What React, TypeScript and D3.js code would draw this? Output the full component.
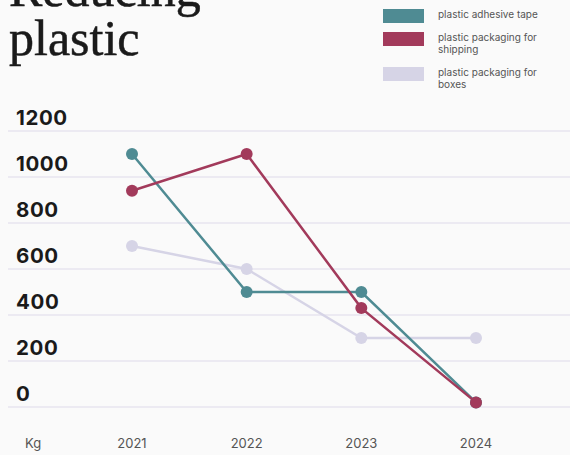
import React from "react";
import * as d3 from "d3";

const years = ["2021", "2022", "2023", "2024"];
const adhesiveTape = [1100, 500, 500, 20];
const shippingPackaging = [940, 1100, 430, 20];
const boxesPackaging = [700, 600, 300, 300];
const yTicks = [0, 200, 400, 600, 800, 1000, 1200];
const seriesNames = ["plastic adhesive tape", "plastic packaging for shipping", "plastic packaging for boxes"];
const seriesColors = ["#4f8b93", "#a23a5b", "#d6d4e6"];

const W = 570;
const H = 455;

export default function App() {
  const x = d3.scalePoint<string>().domain(years).range([132, 476]);
  const y = d3.scaleLinear().domain([0, 1200]).range([407, 131]);
  const line = d3
    .line<number>()
    .x((_, i) => x(years[i]) as number)
    .y((d) => y(d));

  const series = [
    { name: seriesNames[2], values: boxesPackaging, color: seriesColors[2] },
    { name: seriesNames[0], values: adhesiveTape, color: seriesColors[0] },
    { name: seriesNames[1], values: shippingPackaging, color: seriesColors[1] },
  ];

  const legend = [
    { lines: ["plastic adhesive tape"], color: seriesColors[0], top: 9 },
    { lines: ["plastic packaging for", "shipping"], color: seriesColors[1], top: 32 },
    { lines: ["plastic packaging for", "boxes"], color: seriesColors[2], top: 67 },
  ];

  return (
    <svg
      width={W}
      height={H}
      style={{ position: "absolute", left: 0, top: 0, background: "#fafafa" }}
    >
      <rect x={0} y={0} width={W} height={H} fill="#fafafa" />
      <g fontFamily="'Liberation Serif', serif" fontSize={50} fill="#1a1a1a" stroke="#1a1a1a" strokeWidth={0.5}>
        <text x={9} y={6}>Reducing</text>
        <text x={9} y={55}>plastic</text>
      </g>
      <g fontFamily="Inter, sans-serif" fontSize={10} fill="#555">
        {legend.map((l, i) => (
          <g key={i}>
            <rect x={383} y={l.top} width={41} height={14} fill={l.color} />
            {l.lines.map((t, j) => (
              <text key={j} x={438} y={l.top + 9 + j * 12}>
                {t}
              </text>
            ))}
          </g>
        ))}
      </g>
      <g>
        {yTicks.map((t) => (
          <g key={t}>
            <line x1={8} x2={W} y1={y(t)} y2={y(t)} stroke="#e7e5ef" strokeWidth={1.5} />
            <text
              x={16}
              y={y(t) - 6}
              fontFamily="Inter, sans-serif"
              fontWeight={700}
              fontSize={20.5}
              letterSpacing={0.6}
              fill="#1a1a1a"
            >
              {t}
            </text>
          </g>
        ))}
      </g>
      <g fontFamily="Inter, sans-serif" fontSize={13} fill="#555">
        <text x={25} y={448}>Kg</text>
        {years.map((yr) => (
          <text key={yr} x={x(yr)} y={448} textAnchor="middle">
            {yr}
          </text>
        ))}
      </g>
      {series.map((s) => (
        <g key={s.name}>
          <path d={line(s.values) || ""} fill="none" stroke={s.color} strokeWidth={2.5} />
          {s.values.map((v, i) => (
            <circle key={i} cx={x(years[i])} cy={y(v)} r={6} fill={s.color} />
          ))}
        </g>
      ))}
    </svg>
  );
}
